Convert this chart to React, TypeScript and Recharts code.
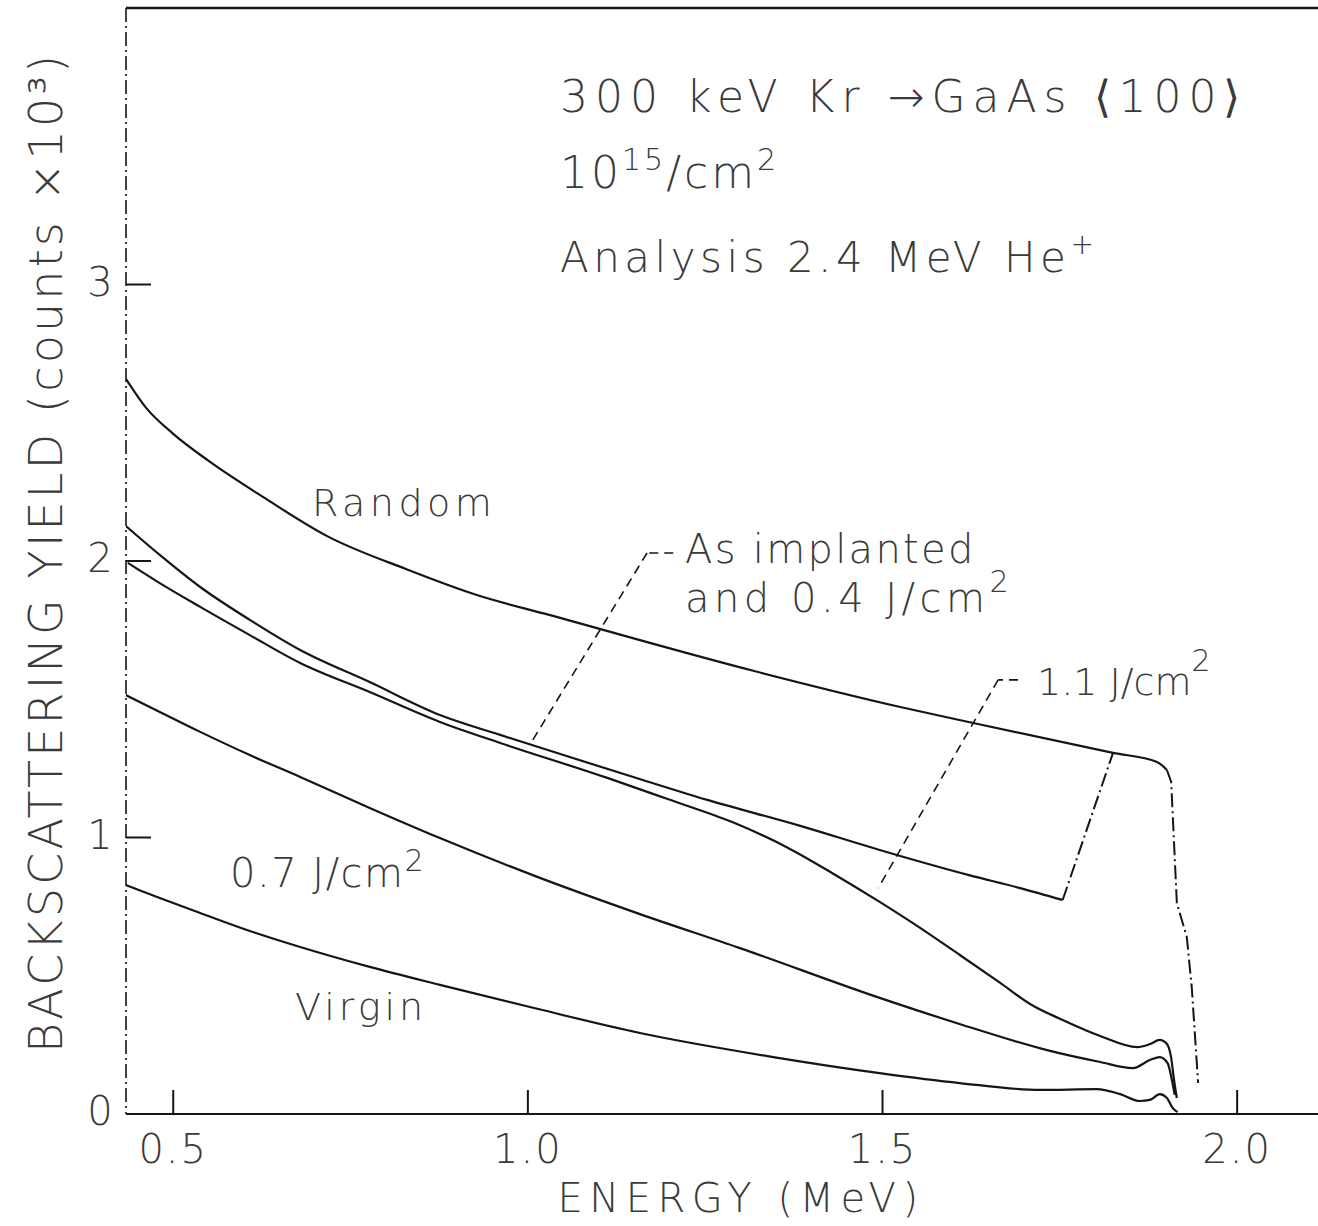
import React from 'react';
import { LineChart, Line, XAxis, YAxis, ReferenceLine } from 'recharts';

// energy (MeV), yield (counts x 10^3)
const energyTicks = [0.5, 1.0, 1.5, 2.0];
const energyTickLabels = ['0.5', '1.0', '1.5', '2.0'];
const yieldTicks = [0, 1, 2, 3];

const random: [number, number][] = [
	[0.433, 2.66], [0.463, 2.55], [0.5, 2.46], [0.55, 2.362], [0.627, 2.231],
	[0.717, 2.09], [0.828, 1.971], [0.928, 1.877], [1.03, 1.805], [1.319, 1.602],
	[1.525, 1.472], [1.628, 1.414], [1.825, 1.306], [1.887, 1.273], [1.901, 1.244],
];
const randomEdge: [number, number][] = [
	[1.901, 1.244], [1.907, 1.201], [1.915, 0.763], [1.929, 0.64], [1.936, 0.459], [1.945, 0.112],
];
const asImplanted: [number, number][] = [
	[0.433, 2.127], [0.481, 2.022], [0.538, 1.906], [0.608, 1.787], [0.679, 1.678],
	[0.777, 1.562], [0.876, 1.443], [0.961, 1.371], [1.059, 1.291], [1.162, 1.208],
	[1.253, 1.136], [1.384, 1.042], [1.496, 0.955], [1.622, 0.864], [1.694, 0.817], [1.754, 0.774],
];
const asImplantedEdge: [number, number][] = [[1.754, 0.774], [1.825, 1.306]];
const j11: [number, number][] = [
	[0.436, 1.993], [0.481, 1.92], [0.538, 1.834], [0.608, 1.732], [0.679, 1.631],
	[0.777, 1.526], [0.876, 1.418], [0.961, 1.342], [1.116, 1.212], [1.196, 1.14],
	[1.289, 1.055], [1.365, 0.965], [1.43, 0.87], [1.496, 0.767], [1.553, 0.673], [1.609, 0.575],
	[1.666, 0.474], [1.708, 0.398], [1.754, 0.34], [1.807, 0.282], [1.859, 0.242],
	[1.877, 0.253], [1.891, 0.268], [1.901, 0.253], [1.907, 0.203], [1.911, 0.123], [1.915, 0.058],
];
const j07: [number, number][] = [
	[0.433, 1.515], [0.481, 1.454], [0.538, 1.382], [0.608, 1.298], [0.679, 1.219],
	[0.777, 1.107], [0.876, 0.998], [1.017, 0.854], [1.158, 0.723], [1.299, 0.6],
	[1.496, 0.42], [1.613, 0.322], [1.732, 0.231], [1.807, 0.188], [1.853, 0.166],
	[1.877, 0.195], [1.891, 0.206], [1.902, 0.184], [1.908, 0.123], [1.912, 0.069],
];
const virgin: [number, number][] = [
	[0.433, 0.828], [0.481, 0.781], [0.538, 0.727], [0.608, 0.662], [0.679, 0.604],
	[0.777, 0.532], [0.876, 0.467], [1.003, 0.387], [1.158, 0.293], [1.346, 0.206],
	[1.496, 0.148], [1.609, 0.112], [1.722, 0.087], [1.802, 0.09], [1.835, 0.072],
	[1.863, 0.047], [1.877, 0.051], [1.891, 0.072], [1.901, 0.058], [1.909, 0.022], [1.916, 0.007],
];

// leader lines from the labels to their curves
const asImplantedLeader: [number, number][] = [[1.205, 2.029], [1.168, 2.029], [1.007, 1.353]];
const j11Leader: [number, number][] = [[1.691, 1.57], [1.663, 1.57], [1.494, 0.817]];

const INK = '#151515';
const TEXT = '#3a3a3a';
const FONT = '"DejaVu Sans", sans-serif';

const pts = (arr: [number, number][]) => arr.map(([e, y]) => ({ e, y }));

const EnergyTick = (props: any) => {
	const { x, y, payload, index } = props;
	return (
		<g>
			<line x1={x} y1={y} x2={x} y2={y - 24} stroke={INK} strokeWidth={2} />
			<text x={x} y={y + 49} textAnchor='middle' fontFamily={FONT} fontWeight={200}
				fontSize={40} letterSpacing={2} fill={TEXT}>
				{energyTickLabels[index] ?? payload.value}
			</text>
		</g>
	);
};

const YieldTick = (props: any) => {
	const { x, y, payload } = props;
	return (
		<g>
			{payload.value !== 0 && (
				<line x1={x} y1={y} x2={x + 25} y2={y} stroke={INK} strokeWidth={2} />
			)}
			<text x={x - 26} y={y + 11} textAnchor='middle' fontFamily={FONT} fontWeight={200}
				fontSize={40} fill={TEXT}>
				{payload.value}
			</text>
		</g>
	);
};

const segs = (arr: [number, number][]) =>
	arr.slice(1).map((p, i) => (
		<ReferenceLine
			key={i}
			segment={[{ x: arr[i][0], y: arr[i][1] }, { x: p[0], y: p[1] }]}
			stroke={INK}
			strokeWidth={1.6}
			strokeDasharray='9 6'
		/>
	));

export default function App() {
	const txt = { fontFamily: FONT, fontWeight: 200, fill: TEXT } as const;
	return (
		<div style={{ position: 'relative', width: 1318, height: 1226, background: '#fff' }}>
			<style>{'body{margin:0}'}</style>
			<LineChart width={1318} height={1226} margin={{ top: 8, right: 0, bottom: 0, left: 0 }}>
				<XAxis
					dataKey='e'
					type='number'
					domain={[0.4334, 2.114]}
					ticks={energyTicks}
					allowDataOverflow
					height={112}
					tickSize={0}
					tickMargin={0}
					tickLine={false}
					axisLine={{ stroke: INK, strokeWidth: 2.2 }}
					tick={<EnergyTick />}
				/>
				<YAxis
					type='number'
					domain={[0, 4]}
					ticks={yieldTicks}
					allowDataOverflow
					width={126}
					tickSize={0}
					tickMargin={0}
					tickLine={false}
					axisLine={{ stroke: INK, strokeWidth: 1.6, strokeDasharray: '14 4 2 4' }}
					tick={<YieldTick />}
				/>
				<ReferenceLine y={4} stroke={INK} strokeWidth={2.5} />
				{segs(asImplantedLeader)}
				{segs(j11Leader)}
				<Line data={pts(random)} dataKey='y' type='monotone' stroke={INK} strokeWidth={2.2} dot={false} isAnimationActive={false} />
				<Line data={pts(randomEdge)} dataKey='y' type='linear' stroke={INK} strokeWidth={2} strokeDasharray='14 4 2 4' dot={false} isAnimationActive={false} />
				<Line data={pts(asImplanted)} dataKey='y' type='monotone' stroke={INK} strokeWidth={2.2} dot={false} isAnimationActive={false} />
				<Line data={pts(asImplantedEdge)} dataKey='y' type='linear' stroke={INK} strokeWidth={2} strokeDasharray='14 4 2 4' dot={false} isAnimationActive={false} />
				<Line data={pts(j11)} dataKey='y' type='monotone' stroke={INK} strokeWidth={2.2} dot={false} isAnimationActive={false} />
				<Line data={pts(j07)} dataKey='y' type='monotone' stroke={INK} strokeWidth={2.2} dot={false} isAnimationActive={false} />
				<Line data={pts(virgin)} dataKey='y' type='monotone' stroke={INK} strokeWidth={2.2} dot={false} isAnimationActive={false} />
			</LineChart>
			<svg width={1318} height={1226} style={{ position: 'absolute', left: 0, top: 0, pointerEvents: 'none' }}>
				<text x={560} y={112} fontSize={44} letterSpacing={7} {...txt}>300 keV  Kr →GaAs ⟨100⟩</text>
				<text x={560} y={188} fontSize={44} letterSpacing={3} {...txt}>
					10<tspan dy={-18} fontSize={30}>15</tspan><tspan dy={18}>/cm</tspan><tspan dy={-18} fontSize={30}>2</tspan>
				</text>
				<text x={560} y={272} fontSize={42} letterSpacing={4.5} {...txt}>
					Analysis 2.4 MeV He<tspan dy={-18} fontSize={28}>+</tspan>
				</text>
				<text x={312} y={516} fontSize={38} letterSpacing={4.5} {...txt}>Random</text>
				<text x={685} y={563} fontSize={40} letterSpacing={2.3} {...txt}>As implanted</text>
				<text x={685} y={612} fontSize={40} letterSpacing={4.5} {...txt}>
					and 0.4 J/cm<tspan dy={-20} fontSize={30}>2</tspan>
				</text>
				<text x={1037} y={695} fontSize={38} {...txt}>
					1.1 J/cm<tspan dy={-24} fontSize={30}>2</tspan>
				</text>
				<text x={230} y={887} fontSize={40} letterSpacing={1.5} {...txt}>
					0.7 J/cm<tspan dy={-16} fontSize={30}>2</tspan>
				</text>
				<text x={295} y={1020} fontSize={38} letterSpacing={4} {...txt}>Virgin</text>
				<text x={741} y={1212} fontSize={40} letterSpacing={6.5} textAnchor='middle' {...txt}>ENERGY (MeV)</text>
				<text x={62} y={554} fontSize={46} textAnchor='middle' textLength={998} lengthAdjust='spacing'
					transform='rotate(-90 62 554)' {...txt}>
					BACKSCATTERING  YIELD  (counts ×10³)
				</text>
			</svg>
		</div>
	);
}
